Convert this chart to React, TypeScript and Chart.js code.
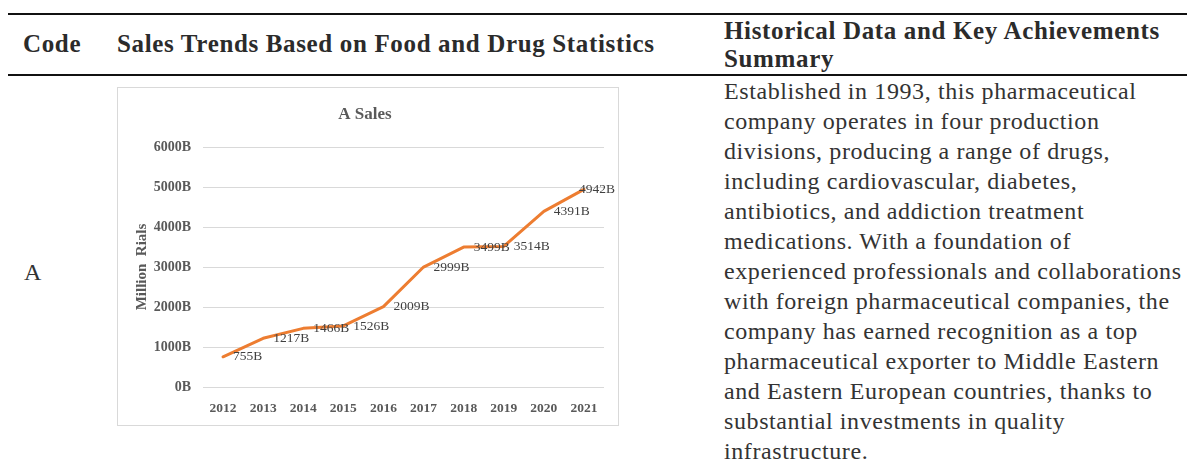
import React, { useEffect, useRef } from "react";
import { Chart, registerables } from "chart.js";

Chart.register(...registerables);

const years = ["2012", "2013", "2014", "2015", "2016", "2017", "2018", "2019", "2020", "2021"];
const sales = [755, 1217, 1466, 1526, 2009, 2999, 3499, 3514, 4391, 4942];
const yTickUnit = "B";
const chartTitle = "A Sales";
const yAxisTitle = "Million  Rials";

const headerCode = "Code";
const headerChart = "Sales Trends Based on Food and Drug Statistics";
const headerSummary = ["Historical Data and Key Achievements", "Summary"];
const rowCode = "A";
const summaryLines = [
  "Established in 1993, this pharmaceutical",
  "company operates in four production",
  "divisions, producing a range of drugs,",
  "including cardiovascular, diabetes,",
  "antibiotics, and addiction treatment",
  "medications. With a foundation of",
  "experienced professionals and collaborations",
  "with foreign pharmaceutical companies, the",
  "company has earned recognition as a top",
  "pharmaceutical exporter to Middle Eastern",
  "and Eastern European countries, thanks to",
  "substantial investments in quality",
  "infrastructure.",
];

const SERIF = '"Liberation Serif", "Times New Roman", serif';

const dataLabelPlugin = {
  id: "dataLabels",
  afterDatasetsDraw(chart: any) {
    const ctx = chart.ctx;
    const meta = chart.getDatasetMeta(0);
    const ds = chart.data.datasets[0];
    ctx.save();
    ctx.font = `13.5px ${SERIF}`;
    ctx.fillStyle = "#404040";
    ctx.textBaseline = "middle";
    ctx.textAlign = "left";
    meta.data.forEach((pt: any, i: number) => {
      const text = `${ds.data[i]}${yTickUnit}`;
      const w = ctx.measureText(text).width;
      let x = pt.x + 10;
      const maxRight = chart.width - 3;
      if (x + w > maxRight) x = maxRight - w;
      ctx.fillText(text, x, pt.y);
    });
    ctx.restore();
  },
};

function SalesChart() {
  const ref = useRef<HTMLCanvasElement | null>(null);
  useEffect(() => {
    if (!ref.current) return;
    const chart = new Chart(ref.current, {
      type: "line",
      data: {
        labels: years,
        datasets: [
          {
            data: sales,
            borderColor: "#ED7D31",
            backgroundColor: "#ED7D31",
            borderWidth: 3,
            pointRadius: 0,
            tension: 0,
            borderJoinStyle: "round",
            borderCapStyle: "round",
          },
        ],
      },
      options: {
        responsive: false,
        animation: false,
        events: [],
        layout: { padding: { left: 8, right: 14, top: 16, bottom: 0 } },
        plugins: {
          legend: { display: false },
          tooltip: { enabled: false },
          title: {
            display: true,
            text: chartTitle,
            color: "#595959",
            font: { family: SERIF, size: 17, weight: "bold" },
            padding: { top: 0, bottom: 22.6 },
          },
        },
        scales: {
          x: {
            offset: true,
            grid: { display: false },
            border: { display: false },
            ticks: {
              color: "#595959",
              font: { family: SERIF, size: 13.5, weight: "bold" },
              padding: 5,
              maxRotation: 0,
              autoSkip: false,
            },
            afterFit(scale: any) {
              scale.height = 38;
            },
          },
          y: {
            min: 0,
            max: 6000,
            grid: { color: "#d9d9d9", lineWidth: 1, drawTicks: false },
            border: { display: false },
            ticks: {
              stepSize: 1000,
              color: "#595959",
              font: { family: SERIF, size: 14, weight: "bold" },
              padding: 12,
              callback: (v: any) => `${v}${yTickUnit}`,
            },
            title: {
              display: true,
              text: yAxisTitle,
              color: "#595959",
              font: { family: SERIF, size: 15, weight: "bold" },
              padding: { top: 7, bottom: 0 },
            },
            afterFit(scale: any) {
              scale.width = 77;
            },
          },
        },
      },
      plugins: [dataLabelPlugin],
    });
    return () => chart.destroy();
  }, []);
  return <canvas ref={ref} width={500} height={337} style={{ display: "block" }} />;
}

export default function App() {
  const abs = (s: React.CSSProperties): React.CSSProperties => ({ position: "absolute", ...s });
  const head: React.CSSProperties = {
    fontSize: 25,
    fontWeight: "bold",
    letterSpacing: "0.65px",
    whiteSpace: "nowrap",
    color: "#2b2b2b",
  };
  return (
    <div style={{ fontFamily: SERIF, color: "#333" }}>
      <div style={abs({ left: 8, top: 13, width: 1179, height: 2, background: "#111" })} />
      <div style={abs({ left: 8, top: 74, width: 1179, height: 2, background: "#111" })} />

      <div style={abs({ ...head, left: 23, top: 29, lineHeight: "30px" })}>{headerCode}</div>
      <div style={abs({ ...head, left: 117, top: 29, lineHeight: "30px" })}>{headerChart}</div>
      <div style={abs({ ...head, left: 724, top: 17, lineHeight: "28px" })}>
        {headerSummary.map((l, i) => (
          <div key={i}>{l}</div>
        ))}
      </div>

      <div style={abs({ left: 24, top: 257, fontSize: 24, lineHeight: "30px" })}>{rowCode}</div>

      <div
        style={abs({
          left: 117,
          top: 87,
          width: 502,
          height: 339,
          boxSizing: "border-box",
          border: "1px solid #d9d9d9",
          background: "#fff",
        })}
      >
        <SalesChart />
      </div>

      <div
        style={abs({
          left: 724,
          top: 76,
          fontSize: 24,
          lineHeight: "30px",
          letterSpacing: "0.6px",
          whiteSpace: "nowrap",
        })}
      >
        {summaryLines.map((l, i) => (
          <div key={i}>{l}</div>
        ))}
      </div>
    </div>
  );
}
